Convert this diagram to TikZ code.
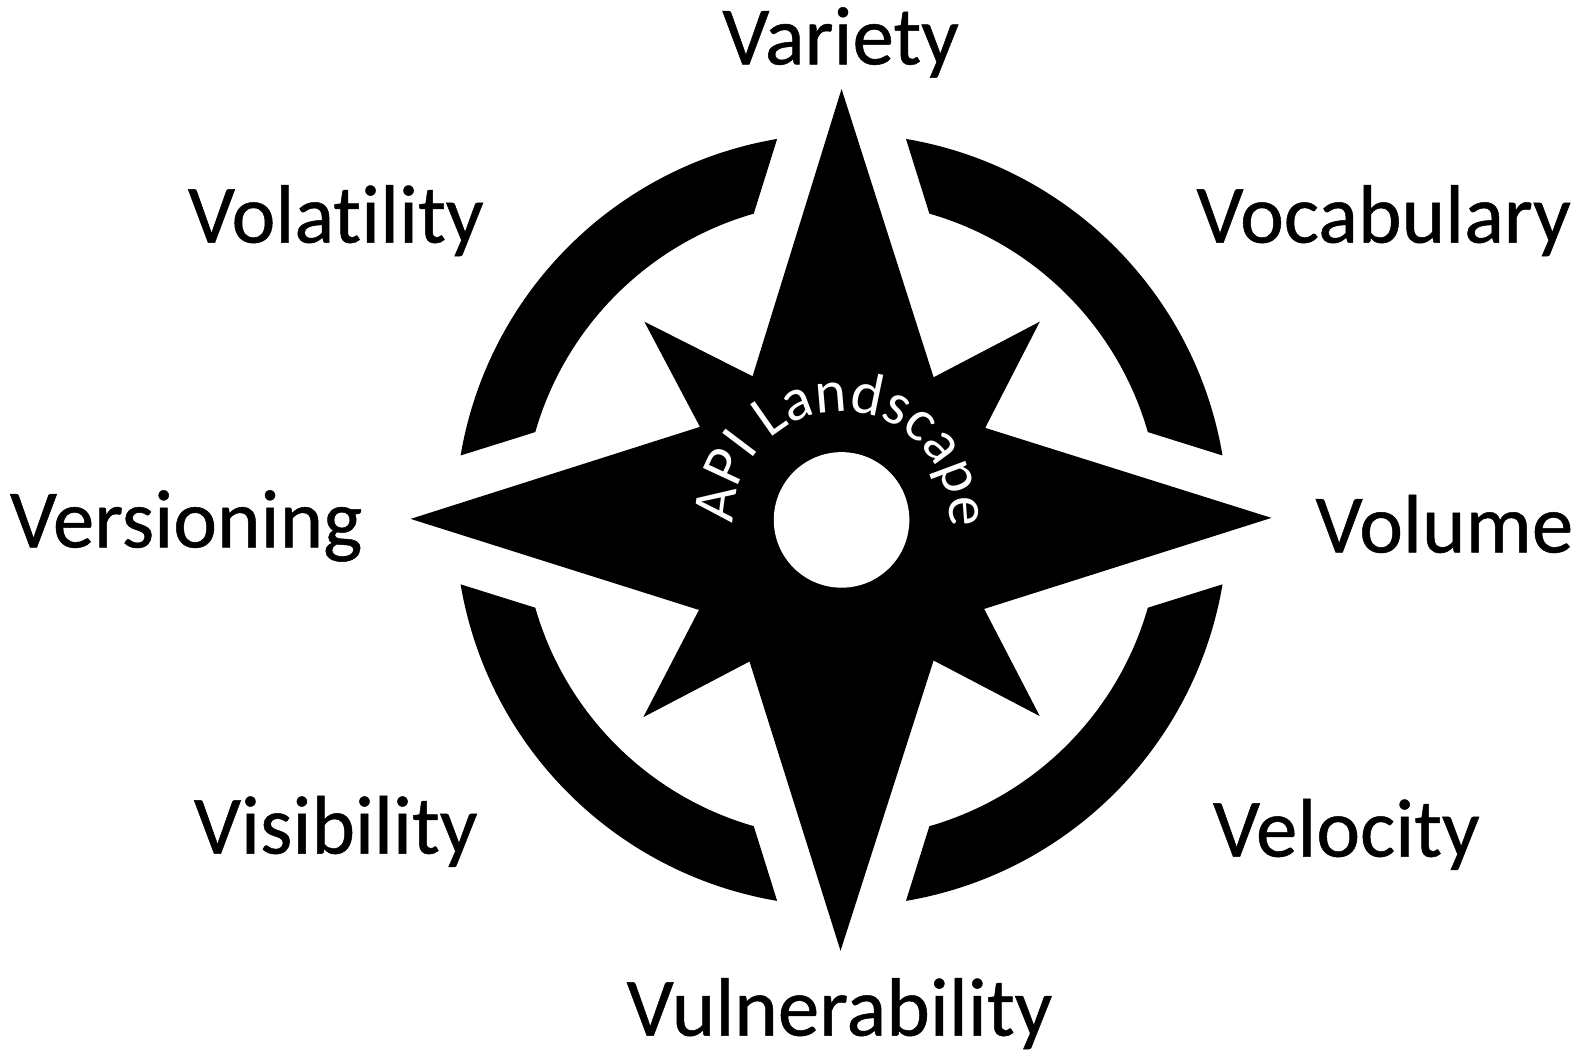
\documentclass[tikz,border=0pt]{standalone}
\usepackage{fontspec}
\setmainfont[Ligatures=NoCommon]{Carlito}
\newfontfamily\labelfont[Ligatures=NoCommon,FakeBold=0.6]{Carlito}
\usepackage{xcolor}
\usetikzlibrary{decorations.text}
\tikzset{
  label/.style={font=\labelfont\fontsize{83}{86}\selectfont,inner sep=0pt,text=black},
  sector/.style={fill=black,draw=none}
}
\begin{document}
\begin{tikzpicture}[x=1.0115pt,y=-1.0115pt]
  \useasboundingbox (0,0) rectangle (1568,1048);
  \coordinate (o) at (832,514);
  % star
  \fill[black] (832,88) -- (923,373) -- (1028,318) -- (974,423) -- (1257,512) -- (973,602)
    -- (1028,708) -- (923,653) -- (831,940) -- (741,654) -- (636,709) -- (691,603)
    -- (406,513) -- (692,422) -- (637,318) -- (744,372) -- cycle;
  \fill[white] (o) circle (67);
  % sectors
  \foreach \r in {0,90,180,270}{
    \begin{scope}[shift={(o)},rotate=\r]
      \fill[sector] (9.6:382) arc[start angle=9.6,end angle=80.4,radius=382]
        -- (74:315) arc[start angle=74,end angle=16,radius=315] -- cycle;
    \end{scope}
  }
  % ring text
  \path[decorate,decoration={text along path,text align=center,
      text={|\fontsize{60}{62}\selectfont\color{white}|API Landscape}}]
    ([shift={(-179:107)}]o) arc[start angle=-179,end angle=1,radius=107];
  \node[label] (variety) at (831,42) {Variety};
  \node[label] (vocabulary) at (1368,218) {Vocabulary};
  \node[label] (volume) at (1428,518) {Volume};
  \node[label] (velocity) at (1331,825) {Velocity};
  \node[label] (vulnerability) at (830,1002) {Vulnerability};
  \node[label] (visibility) at (332,822) {Visibility};
  \node[label] (versioning) at (184,520) {Versioning};
  \node[label] (volatility) at (332,218) {Volatility};
\end{tikzpicture}
\end{document}
